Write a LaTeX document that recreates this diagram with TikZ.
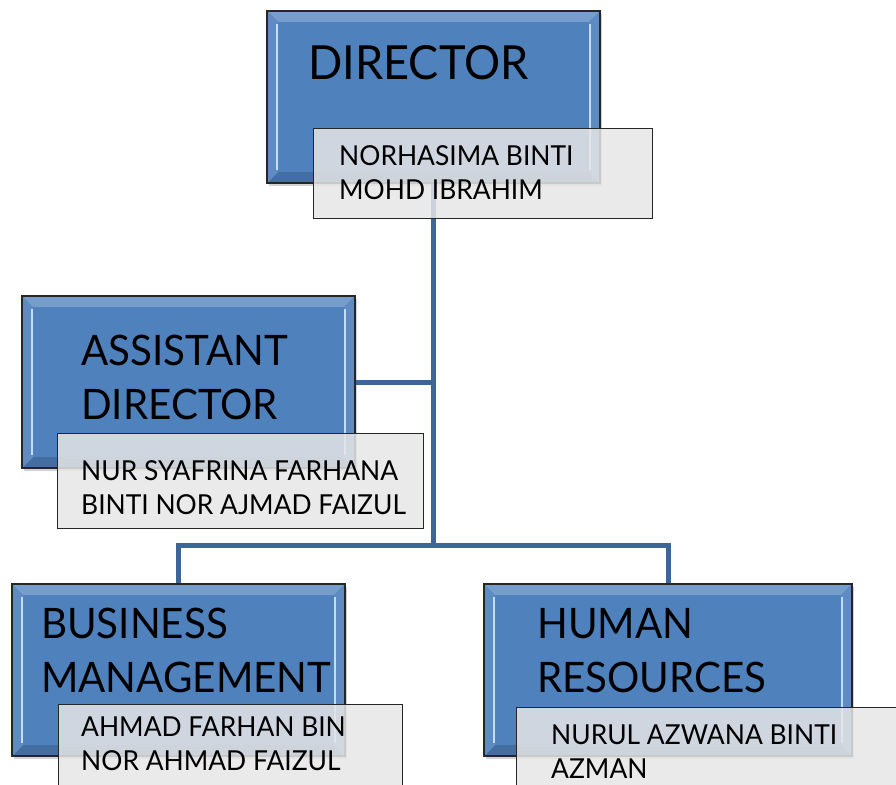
\documentclass[tikz,border=0pt]{standalone}
\usepackage{fontspec}
\setmainfont{Lato}
\newfontfamily\rolefont{Lato}[FakeStretch=0.96]
\newfontfamily\namefont{Lato}[FakeStretch=0.96]
\usetikzlibrary{shadows}

\definecolor{rolefill}{HTML}{4F81BD}
\definecolor{namefill}{HTML}{E6E6E6}
\definecolor{linkblue}{HTML}{3D6596}
\definecolor{glint}{HTML}{C4DDF5}

\tikzset{
  rolebox/.style={draw=black!85, line width=1.2pt, fill=rolefill, inner sep=0pt,
    minimum width=333pt, minimum height=172pt,
    drop shadow={shadow xshift=2pt, shadow yshift=-3pt, opacity=0.35},
    path picture={
      \coordinate (pnw) at (path picture bounding box.north west);
      \coordinate (pne) at (path picture bounding box.north east);
      \coordinate (psw) at (path picture bounding box.south west);
      \coordinate (pse) at (path picture bounding box.south east);
      \fill[rolefill!78!white] (pnw) -- (pne) -- ([shift={(-11pt,-11pt)}]pne) -- ([shift={(11pt,-11pt)}]pnw) -- cycle;
      \fill[rolefill!85!black] (psw) -- (pse) -- ([shift={(-11pt,11pt)}]pse) -- ([shift={(11pt,11pt)}]psw) -- cycle;
      \fill[rolefill!92!white] (pnw) -- ([shift={(11pt,-11pt)}]pnw) -- ([shift={(11pt,11pt)}]psw) -- (psw) -- cycle;
      \fill[rolefill!92!white] (pne) -- ([shift={(-11pt,-11pt)}]pne) -- ([shift={(-11pt,11pt)}]pse) -- (pse) -- cycle;
      \draw[glint, line width=2.5pt] ([shift={(10pt,-13pt)}]pnw) -- ([shift={(10pt,13pt)}]psw);
      \draw[glint, line width=2.5pt] ([shift={(-10pt,-13pt)}]pne) -- ([shift={(-10pt,13pt)}]pse);
    }},
  namebox/.style={draw=black!85, line width=1.2pt, fill=namefill, fill opacity=0.85,
    draw opacity=1, anchor=north west, inner sep=0pt},
  link/.style={draw=linkblue, line width=5pt},
  roletext/.style={font=\rolefont\fontsize{42}{54}\selectfont, align=left, anchor=north west, inner sep=0pt},
  nametext/.style={font=\namefont\fontsize{27.5}{34}\selectfont, align=left, anchor=north west, inner sep=0pt}
}

\begin{document}
\begin{tikzpicture}[x=1pt, y=-1pt]
  \useasboundingbox (0,0) rectangle (896,784);

  % role boxes
  \node[rolebox] (dir) at (433.5,97) {};
  \node[rolebox] (asst) at (188.5,382) {};
  \node[rolebox] (bus) at (178.5,670) {};
  \node[rolebox, minimum width=368pt] (hr) at (668,670) {};

  % connectors
  \coordinate (hub) at (dir.south |- 0,545);
  \draw[link] (dir.south) -- (hub);
  \draw[link] (asst.east) -- (asst.east -| dir.south);
  \draw[link] (hub) -| (bus.north);
  \draw[link] (hub) -| (hr.north);

  % titles
  \node[roletext, font=\rolefont\fontsize{47}{54}\selectfont] (dirT) at (308,45) {DIRECTOR};
  \node[roletext] (asstT) at (81,335) {ASSISTANT\\DIRECTOR};
  \node[roletext] (busT) at (41,608) {BUSINESS\\MANAGEMENT};
  \node[roletext] (hrT) at (537,608) {HUMAN\\RESOURCES};

  % name boxes
  \node[namebox, minimum width=339pt, minimum height=90pt] (dirN) at (313,128) {};
  \node[namebox, minimum width=366pt, minimum height=95pt] (asstN) at (57,433) {};
  \node[namebox, minimum width=344pt, minimum height=100pt] (busN) at (58,704) {};
  \node[namebox, minimum width=400pt, minimum height=100pt] (hrN) at (516,707) {};

  \node[nametext] (dirL) at (339,145) {NORHASIMA BINTI\\MOHD IBRAHIM};
  \node[nametext] (asstL) at (81,460) {NUR SYAFRINA FARHANA\\BINTI NOR AJMAD FAIZUL};
  \node[nametext] (busL) at (81,717) {AHMAD FARHAN BIN\\NOR AHMAD FAIZUL};
  \node[nametext] (hrL) at (551,725) {NURUL AZWANA BINTI\\AZMAN};
\end{tikzpicture}
\end{document}
